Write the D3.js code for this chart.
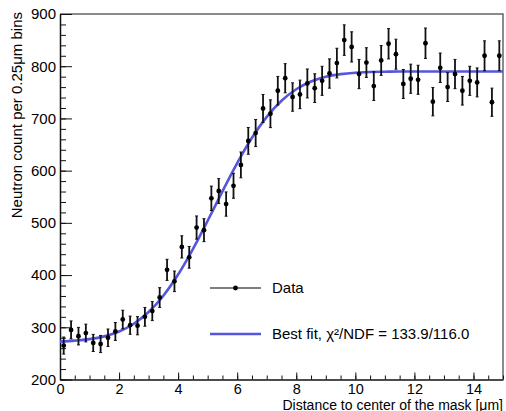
<!DOCTYPE html>
<html>
<head>
<meta charset="utf-8">
<script src="https://cdn.jsdelivr.net/npm/d3@7"></script>
<style>
  body { margin: 0; background: #fff; }
  text { font-family: "Liberation Sans", Arial, Helvetica, sans-serif; fill: #000; }
</style>
</head>
<body>
<div id="chart"></div>
<script>
// neutron counts per 0.25um bin, bins from 0 to 15 um
var binWidth = 0.25;
var counts = [265, 295, 283, 289, 270, 268, 280, 292, 315, 304,
              303, 320, 331, 357, 410, 388, 454, 434, 491, 486,
              547, 561, 536, 571, 611, 657, 672, 719, 709, 753,
              777, 741, 746, 767, 758, 772, 786, 806, 850, 837,
              785, 807, 762, 811, 843, 823, 766, 776, 774, 844,
              732, 797, 760, 785, 753, 772, 769, 820, 731, 820];
var errors = [16.3, 17.2, 16.8, 17.0, 16.4, 16.4, 16.7, 17.1, 17.7, 17.4,
              17.4, 17.9, 18.2, 18.9, 20.2, 19.7, 21.3, 20.8, 22.2, 22.0,
              23.4, 23.7, 23.2, 23.9, 24.7, 25.6, 25.9, 26.8, 26.6, 27.4,
              27.9, 27.2, 27.3, 27.7, 27.5, 27.8, 28.0, 28.4, 29.2, 28.9,
              28.0, 28.4, 27.6, 28.5, 29.0, 28.7, 27.7, 27.9, 27.8, 29.1,
              27.1, 28.2, 27.6, 28.0, 27.4, 27.8, 27.7, 28.6, 27.0, 28.6];
// best fit curve, every 0.5 um
var fitX = [0, 0.5, 1, 1.5, 2, 2.5, 3, 3.5, 4, 4.5, 5, 5.5, 6, 6.5, 7, 7.5,
            8, 8.5, 9, 9.5, 10, 10.5, 11, 11.5, 12, 12.5, 13, 13.5, 14, 14.5, 15];
var fitY = [272.6, 274.5, 277.3, 282.6, 291.9, 306.8, 329.2, 360.5, 401, 449.7,
            504, 560.3, 614.4, 662.9, 703, 733.9, 755.9, 770.6, 779.7, 784.8,
            787.6, 788.9, 789.5, 790, 790, 790, 790, 790, 790, 790, 790];
var xMajor = [0, 2, 4, 6, 8, 10, 12, 14];
var yMajor = [200, 300, 400, 500, 600, 700, 800, 900];
var legendLabels = ["Data", "Best fit, \u03c7\u00b2/NDF = 133.9/116.0"];

var margin = {top: 14, right: 3, bottom: 31.5, left: 60},
    width = 506 - margin.left - margin.right,
    height = 411 - margin.top - margin.bottom;

var svg = d3.select("#chart")
  .append("svg")
    .attr("width", 506)
    .attr("height", 411)
  .append("g")
    .attr("transform", "translate(" + margin.left + "," + margin.top + ")");

var x = d3.scaleLinear().domain([0, 15]).range([0, width]);
var y = d3.scaleLinear().domain([200, 900]).range([height, 0]);

// frame (top and right)
svg.append("path")
  .attr("d", "M0,0H" + width + "V" + height)
  .attr("fill", "none")
  .attr("stroke", "#666")
  .attr("stroke-width", 1.5);

// x axis, ticks point up into the plot
svg.append("g")
  .attr("transform", "translate(0," + height + ")")
  .call(d3.axisBottom(x).tickValues(d3.range(0, 15.01, 0.5)).tickSize(-4).tickSizeOuter(0).tickFormat(""))
  .call(g => g.select(".domain").attr("stroke", "#111").attr("stroke-width", 1.5))
  .call(g => g.selectAll(".tick line").attr("stroke", "#111"));
svg.append("g")
  .attr("transform", "translate(0," + height + ")")
  .call(d3.axisBottom(x).tickValues(xMajor).tickSize(-7).tickSizeOuter(0).tickPadding(4))
  .call(g => g.select(".domain").remove())
  .call(g => g.selectAll(".tick line").attr("stroke", "#111"))
  .call(g => g.selectAll(".tick text").attr("font-size", 14.5).attr("dy", "0.72em").attr("y", 4));

// y axis, ticks point right into the plot
svg.append("g")
  .call(d3.axisLeft(y).tickValues(d3.range(200, 901, 20)).tickSize(-6).tickSizeOuter(0).tickFormat(""))
  .call(g => g.select(".domain").attr("stroke", "#111").attr("stroke-width", 1.5))
  .call(g => g.selectAll(".tick line").attr("stroke", "#111"));
svg.append("g")
  .call(d3.axisLeft(y).tickValues(yMajor).tickSize(-12).tickSizeOuter(0).tickPadding(4))
  .call(g => g.select(".domain").remove())
  .call(g => g.selectAll(".tick line").attr("stroke", "#111"))
  .call(g => g.selectAll(".tick text").attr("font-size", 15).attr("x", -4));

// axis titles (right aligned like ROOT)
svg.append("text")
  .attr("x", width)
  .attr("y", height + 30)
  .attr("text-anchor", "end")
  .attr("font-size", 14)
  .text("Distance to center of the mask [\u03bcm]");
svg.append("text")
  .attr("transform", "translate(-38,-2)rotate(-90)")
  .attr("text-anchor", "end")
  .attr("font-size", 15)
  .text("Neutron count per 0.25\u03bcm bins");

var data = counts.map(function(c, i) {
  return {x: (i + 0.5) * binWidth, n: c, e: errors[i]};
});

// fit curve
var line = d3.line()
  .x(function(d, i) { return x(fitX[i]); })
  .y(function(d) { return y(d); })
  .curve(d3.curveMonotoneX);
svg.append("path")
  .datum(fitY)
  .attr("d", line)
  .attr("fill", "none")
  .attr("stroke", "#5656dc")
  .attr("stroke-width", 2.6);

// error bars + markers
var pts = svg.append("g");
pts.selectAll("line.err")
  .data(data)
  .enter()
  .append("line")
    .attr("class", "err")
    .attr("x1", function(d) { return x(d.x); })
    .attr("x2", function(d) { return x(d.x); })
    .attr("y1", function(d) { return y(d.n - d.e); })
    .attr("y2", function(d) { return y(d.n + d.e); })
    .attr("stroke", "#111")
    .attr("stroke-width", 1.8);
pts.selectAll("path.cap")
  .data(data)
  .enter()
  .append("path")
    .attr("class", "cap")
    .attr("d", function(d) {
      var cx = x(d.x);
      return "M" + (cx - 1.5) + "," + y(d.n - d.e) + "H" + (cx + 1.5) +
             "M" + (cx - 1.5) + "," + y(d.n + d.e) + "H" + (cx + 1.5);
    })
    .attr("stroke", "#111")
    .attr("stroke-width", 1);
pts.selectAll("circle")
  .data(data)
  .enter()
  .append("circle")
    .attr("cx", function(d) { return x(d.x); })
    .attr("cy", function(d) { return y(d.n); })
    .attr("r", 2.4)
    .attr("fill", "#000");

// legend
var leg = svg.append("g").attr("transform", "translate(150,274)");
leg.append("line")
  .attr("x1", 0).attr("x2", 51).attr("y1", 0).attr("y2", 0)
  .attr("stroke", "#000").attr("stroke-width", 1.2);
leg.append("circle").attr("cx", 25.5).attr("cy", 0).attr("r", 2.4).attr("fill", "#000");
leg.append("line")
  .attr("x1", 0).attr("x2", 51).attr("y1", 46).attr("y2", 46)
  .attr("stroke", "#5656dc").attr("stroke-width", 2.6);
leg.selectAll("text")
  .data(legendLabels)
  .enter()
  .append("text")
    .attr("x", 62)
    .attr("y", function(d, i) { return i * 46; })
    .attr("dy", "0.36em")
    .attr("font-size", 15)
    .text(function(d) { return d; });
</script>
</body>
</html>
